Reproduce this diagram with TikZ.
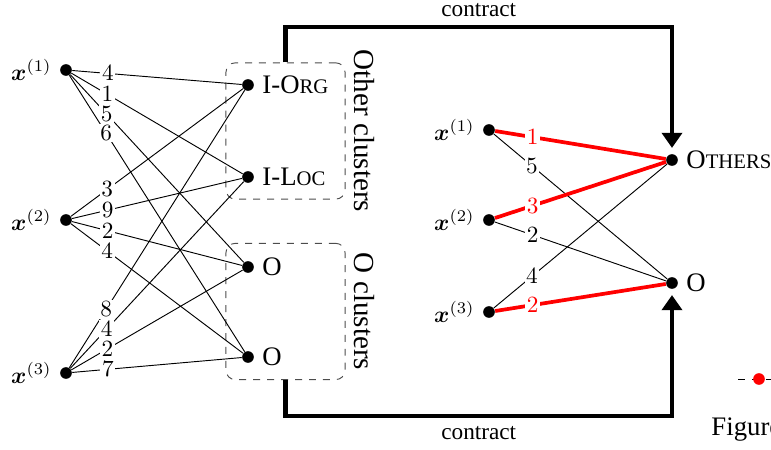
\documentclass[tikz,border=0pt]{standalone}
\usepackage{fontspec}
\setmainfont{Liberation Serif}
\usepackage{amsmath,amssymb}
\usepackage{tikz}
\usetikzlibrary{arrows.meta,positioning,calc}
\tikzstyle{dot} = [circle, fill=black, inner sep=0pt, minimum size=5pt]
\tikzstyle{tag} = [font=\fontsize{11.5}{13}\selectfont]
\tikzstyle{side} = [font=\fontsize{12.5}{14}\selectfont]
\tikzstyle{score} = [fill=white, inner sep=0.7pt, pos=0.21]
\tikzstyle{rscore} = [score, pos=0.22]
\tikzstyle{best} = [red, line width=1.6pt]
\tikzstyle{cluster} = [rectangle, rounded corners=4pt, dashed, draw=black!70, minimum width=51.2pt, minimum height=58.6pt]
\tikzstyle{contraction} = [line width=2pt, -{Triangle[width=8.6pt,length=6.5pt]}, shorten >=2.5pt]
\newcommand{\fsc}[1]{{\fontsize{8.9}{10}\selectfont #1}}

\begin{document}
\begin{tikzpicture}[x=0.43pt, y=-0.43pt]
\useasboundingbox (0,0) rectangle (771,450);

% sentences (left)
\node (X1)[dot, label=left:{$\boldsymbol{x}^{(1)}$}] at (66,70) {};
\node (X2)[dot, label=left:{$\boldsymbol{x}^{(2)}$}] at (66,220) {};
\node (X3)[dot, label=left:{$\boldsymbol{x}^{(3)}$}] at (66,373) {};

% clusters
\node (I Org)[dot, label={[tag]right:I-O\fsc{RG}}] at (248,85) {};
\node (I Loc)[dot, label={[tag]right:I-L\fsc{OC}}] at (248,177) {};
\node (O One)[dot, label={[tag]right:O}] at (248,267) {};
\node (O Two)[dot, label={[tag]right:O}] at (248,357) {};

\node (Other Box)[cluster] at (285.5,131) {};
\node (O Box)[cluster] at (285.5,311.5) {};
\node (Other Label)[side, anchor=south, rotate=-90] at (Other Box.east) {Other clusters};
\node (O Label)[side, anchor=south, rotate=-90] at (O Box.east) {O clusters};

\draw (X1)--node[score]{$4$}(I Org);
\draw (X1)--node[score]{$1$}(I Loc);
\draw (X1)--node[score]{$5$}(O One);
\draw (X1)--node[score]{$6$}(O Two);
\draw (X2)--node[score]{$3$}(I Org);
\draw (X2)--node[score]{$9$}(I Loc);
\draw (X2)--node[score]{$2$}(O One);
\draw (X2)--node[score]{$4$}(O Two);
\draw (X3)--node[score]{$8$}(I Org);
\draw (X3)--node[score]{$4$}(I Loc);
\draw (X3)--node[score]{$2$}(O One);
\draw (X3)--node[score]{$7$}(O Two);

% sentences (right)
\node (Y1)[dot, label=left:{$\boldsymbol{x}^{(1)}$}] at (489,130) {};
\node (Y2)[dot, label=left:{$\boldsymbol{x}^{(2)}$}] at (489,220) {};
\node (Y3)[dot, label=left:{$\boldsymbol{x}^{(3)}$}] at (489,312) {};
\node (Others)[dot, label={[tag]right:O\fsc{THERS}}] at (672,160) {};
\node (O Right)[dot, label={[tag]right:O}] at (672,283) {};

\draw (Y1)--node[rscore]{$5$}(O Right);
\draw (Y2)--node[rscore]{$2$}(O Right);
\draw (Y3)--node[rscore]{$4$}(Others);
\draw[best] (Y1)--node[rscore, text=red]{$1$}(Others);
\draw[best] (Y2)--node[rscore, text=red]{$3$}(Others);
\draw[best] (Y3)--node[rscore, text=red]{$2$}(O Right);

% contract arrows
\coordinate (Top Bend) at (672,27);
\coordinate (Bottom Bend) at (672,416);
\draw[contraction](Other Box.north) |- node[pos=0.75, above]{contract} (Top Bend) -- (Others);
\draw[contraction](O Box.south) |- node[pos=0.75, below]{contract} (Bottom Bend) -- (O Right);

% cut-off legend and caption
\coordinate (Legend Start) at (738,379);
\coordinate (Legend End) at (800,379);
\draw[dash pattern=on 3pt off 3pt](Legend Start)--(Legend End);
\node (Legend Dot)[dot, fill=red] at (759,379) {};
\node (Caption)[tag, anchor=base west, inner sep=0pt] at (711,436) {Figure};

\end{tikzpicture}
\end{document}
